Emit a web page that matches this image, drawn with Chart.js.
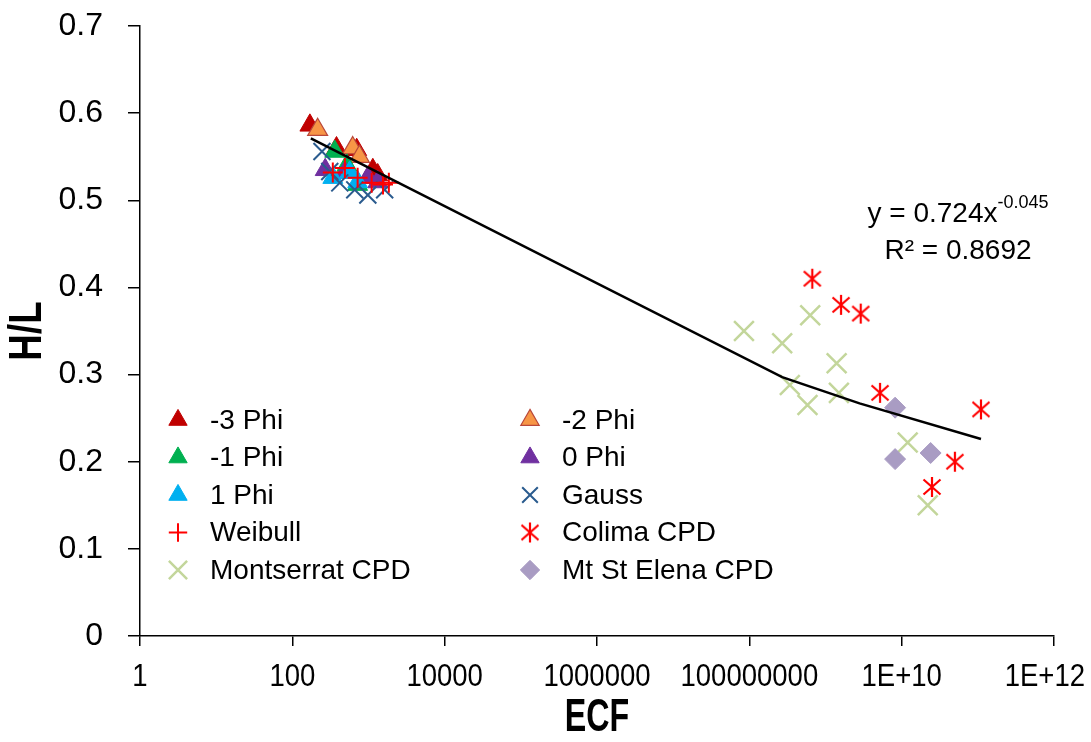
<!DOCTYPE html>
<html>
<head>
<meta charset="utf-8">
<script src="https://cdn.jsdelivr.net/npm/chart.js@4.4.1/dist/chart.umd.min.js"></script>
<style>
  html, body { margin: 0; padding: 0; background: #fff; }
  #wrap { width: 1091px; height: 742px; position: relative; }
</style>
</head>
<body>
<div id="wrap"><canvas id="ecfChart"></canvas></div>
<script>
// ECF vs H/L scatter, log x axis, power trendline

const seriesNames = ['-3 Phi', '-2 Phi', '-1 Phi', '0 Phi', '1 Phi', 'Gauss', 'Weibull',
  'Colima CPD', 'Montserrat CPD', 'Mt St Elena CPD'];

// [ECF, H/L] pairs
const phiM3 = [[170, 0.586], [380, 0.560], [700, 0.558], [1140, 0.535], [1320, 0.529]];
const phiM2 = [[215, 0.581], [620, 0.560], [760, 0.550]];
const phiM1 = [[360, 0.556], [520, 0.540], [720, 0.518]];
const phi0 = [[270, 0.535], [490, 0.532], [980, 0.526], [1320, 0.521]];
const phi1 = [[340, 0.526], [565, 0.532], [720, 0.521]];
const gauss = [[245, 0.556], [310, 0.533], [420, 0.520], [660, 0.512], [980, 0.506], [1630, 0.512]];
const weibull = [[340, 0.532], [490, 0.537], [720, 0.526], [1100, 0.520], [1550, 0.518], [1850, 0.520]];
const colima = [[6.7e8, 0.410], [1.6e9, 0.380], [2.9e9, 0.370], [5.2e9, 0.279], [1.1e11, 0.260],
  [5.0e10, 0.200], [2.5e10, 0.171]];
const montserrat = [[8.5e7, 0.350], [2.7e8, 0.336], [3.4e8, 0.288], [5.8e8, 0.265], [6.3e8, 0.368],
  [1.4e9, 0.313], [1.5e9, 0.279], [1.2e10, 0.222], [2.2e10, 0.150]];
const stElena = [[8.2e9, 0.262], [8.2e9, 0.203], [2.4e10, 0.210]];

// trendline as Excel drew it (vertices)
const trendPts = [[175, 0.571], [2.7e8, 0.297], [2.8e9, 0.267], [1.1e11, 0.226]];

const xTickValues = [1, 100, 1e4, 1e6, 1e8, 1e10, 1e12];
const xTickLabels = ['1', '100', '10000', '1000000', '100000000', '1E+10', '1E+12'];
const yTickLabels = ['0', '0.1', '0.2', '0.3', '0.4', '0.5', '0.6', '0.7'];

const xTitle = 'ECF';
const yTitle = 'H/L';
const eqLine1 = 'y = 0.724x';
const eqExp = '-0.045';
const eqLine2 = 'R² = 0.8692';

const TICK_FONT = "'Liberation Sans', Arial, sans-serif";
const TEXT_FONT = "'Liberation Sans', Arial, sans-serif";

// Excel style asterisk: X plus vertical bar
function makeAsterisk(color) {
    const c = document.createElement('canvas');
    c.width = 24; c.height = 24;
    const g = c.getContext('2d');
    g.strokeStyle = color;
    g.lineWidth = 2.2;
    g.beginPath();
    g.moveTo(12, 2); g.lineTo(12, 22);
    g.moveTo(3.5, 4.5); g.lineTo(20.5, 19.5);
    g.moveTo(20.5, 4.5); g.lineTo(3.5, 19.5);
    g.stroke();
    return c;
}
const asterisk = makeAsterisk('#FF0000');

const toPts = arr => arr.map(p => ({ x: p[0], y: p[1] }));

const styles = [
    { data: phiM3, pointStyle: 'triangle', radius: 11.5, bg: '#C00000', border: '#C00000', bw: 1 },
    { data: phiM2, pointStyle: 'triangle', radius: 11.5, bg: '#F79646', border: '#B9473A', bw: 1.2 },
    { data: phiM1, pointStyle: 'triangle', radius: 11.5, bg: '#00B050', border: '#00B050', bw: 1 },
    { data: phi0, pointStyle: 'triangle', radius: 11.5, bg: '#7030A0', border: '#7030A0', bw: 1 },
    { data: phi1, pointStyle: 'triangle', radius: 11.5, bg: '#00B0F0', border: '#00B0F0', bw: 1 },
    { data: gauss, pointStyle: 'crossRot', radius: 12, bg: '#2A5B8E', border: '#2A5B8E', bw: 2 },
    { data: weibull, pointStyle: 'cross', radius: 10, bg: '#FF0000', border: '#FF0000', bw: 2 },
    { data: colima, pointStyle: asterisk, radius: 11, bg: '#FF0000', border: '#FF0000', bw: 0 },
    { data: montserrat, pointStyle: 'crossRot', radius: 14, bg: '#C3D69B', border: '#C3D69B', bw: 2.5 },
    { data: stElena, pointStyle: 'rectRot', radius: 10.5, bg: '#A99CC3', border: '#A99CC3', bw: 1 }
];

const datasets = styles.map((s, i) => ({
    label: seriesNames[i],
    data: toPts(s.data),
    pointStyle: s.pointStyle,
    pointRadius: s.radius,
    pointHoverRadius: s.radius,
    backgroundColor: s.bg,
    borderColor: s.border,
    borderWidth: s.bw,
    showLine: false,
    order: 20 - i
}));

datasets.push({
    type: 'line',
    label: 'Trend',
    data: toPts(trendPts),
    borderColor: '#000000',
    borderWidth: 2.5,
    pointRadius: 0,
    fill: false,
    tension: 0,
    order: 0
});

// legend drawn inside the plot, two columns like the Excel original
const insideLegend = {
    id: 'insideLegend',
    afterDraw(chart) {
        const ctx = chart.ctx;
        const colX = [178, 530];
        const textX = [210, 562];
        const rowY0 = 420, rowStep = 37.5;
        ctx.save();
        ctx.font = '28px ' + TEXT_FONT;
        ctx.textBaseline = 'middle';
        ctx.textAlign = 'left';
        styles.forEach((s, i) => {
            const col = i % 2, row = Math.floor(i / 2);
            const y = rowY0 + row * rowStep;
            ctx.fillStyle = s.bg;
            ctx.strokeStyle = s.border;
            ctx.lineWidth = s.bw;
            Chart.helpers.drawPoint(ctx, {
                pointStyle: s.pointStyle,
                radius: s.radius * 0.92,
                rotation: 0,
                borderWidth: s.bw
            }, colX[col], y);
            ctx.fillStyle = '#000';
            ctx.fillText(seriesNames[i], textX[col], y + 1);
        });
        ctx.restore();
    }
};

// trendline equation, condensed x tick labels and bold axis titles
const textLabels = {
    id: 'textLabels',
    afterDraw(chart) {
        const ctx = chart.ctx;
        const area = chart.chartArea;
        const xScale = chart.scales.x;
        ctx.save();
        ctx.fillStyle = '#000';
        ctx.textBaseline = 'alphabetic';
        ctx.font = '28px ' + TEXT_FONT;
        const w1 = ctx.measureText(eqLine1).width;
        ctx.font = '18px ' + TEXT_FONT;
        const wExp = ctx.measureText(eqExp).width;
        const cx = 958;
        const x1 = cx - (w1 + wExp) / 2;
        ctx.font = '28px ' + TEXT_FONT;
        ctx.fillText(eqLine1, x1, 222);
        ctx.font = '18px ' + TEXT_FONT;
        ctx.fillText(eqExp, x1 + w1, 208);
        ctx.font = '28px ' + TEXT_FONT;
        ctx.textAlign = 'center';
        ctx.fillText(eqLine2, cx, 259);
        ctx.restore();

        // x tick labels, slightly condensed like the original
        const squeeze = 0.86;
        ctx.save();
        ctx.font = '32px ' + TICK_FONT;
        ctx.textAlign = 'center';
        ctx.textBaseline = 'middle';
        ctx.fillStyle = '#000';
        xTickValues.forEach((v, i) => {
            const half = ctx.measureText(xTickLabels[i]).width * squeeze / 2;
            const px = Math.min(xScale.getPixelForValue(v), chart.width - 6 - half);
            ctx.save();
            ctx.translate(px, area.bottom + 41);
            ctx.scale(squeeze, 1);
            ctx.fillText(xTickLabels[i], 0, 0);
            ctx.restore();
        });
        ctx.restore();

        // axis titles, squeezed horizontally to look condensed
        ctx.save();
        ctx.font = 'bold 46px ' + TEXT_FONT;
        ctx.textAlign = 'center';
        ctx.textBaseline = 'middle';
        ctx.fillStyle = '#000';
        ctx.save();
        ctx.translate((area.left + area.right) / 2, 718);
        ctx.scale(0.7, 1);
        ctx.fillText(xTitle, 0, 0);
        ctx.restore();
        ctx.save();
        ctx.translate(28, (area.top + area.bottom) / 2);
        ctx.rotate(-Math.PI / 2);
        ctx.scale(0.8, 1);
        ctx.fillText(yTitle, 0, 0);
        ctx.restore();
        ctx.restore();
    }
};

new Chart(document.getElementById('ecfChart'), {
    type: 'scatter',
    data: { datasets: datasets },
    options: {
        responsive: true,
        maintainAspectRatio: false,
        animation: false,
        events: [],
        layout: { padding: 0 },
        plugins: {
            legend: { display: false },
            tooltip: { enabled: false }
        },
        scales: {
            x: {
                type: 'logarithmic',
                min: 1,
                max: 1e12,
                afterBuildTicks: scale => {
                    scale.ticks = xTickValues.map(v => ({ value: v }));
                },
                afterFit: scale => {
                    scale.height = 106;
                    scale.paddingLeft = 0;
                    scale.paddingRight = 37;
                },
                border: { display: true, color: '#000', width: 1.5 },
                grid: { drawOnChartArea: false, drawTicks: true, tickLength: 10, color: '#000', lineWidth: 1.5 },
                ticks: { display: false, autoSkip: false }
            },
            y: {
                min: 0,
                max: 0.7,
                afterFit: scale => {
                    scale.width = 140;
                    scale.paddingTop = 26;
                    scale.paddingBottom = 0;
                },
                border: { display: true, color: '#000', width: 1.5 },
                grid: { drawOnChartArea: false, drawTicks: true, tickLength: 12, color: '#000', lineWidth: 1.5 },
                ticks: {
                    stepSize: 0.1,
                    padding: 25,
                    color: '#000',
                    font: { family: TICK_FONT, size: 32 },
                    callback: (value) => yTickLabels[Math.round(value * 10)]
                }
            }
        }
    },
    plugins: [insideLegend, textLabels]
});
</script>
</body>
</html>
